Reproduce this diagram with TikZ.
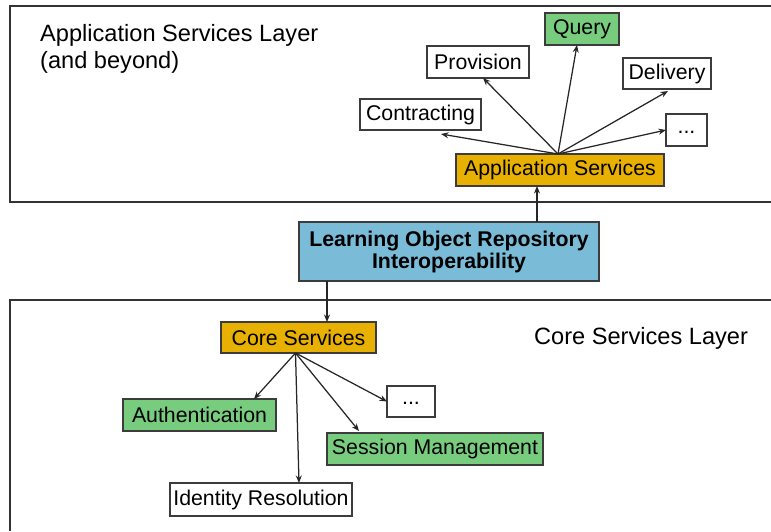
\documentclass[tikz,border=0pt]{standalone}
\usepackage{fontspec}
\setmainfont{Liberation Sans}
\usetikzlibrary{calc,arrows.meta}
\definecolor{svcorange}{RGB}{232,176,0}
\definecolor{svcgreen}{RGB}{120,204,126}
\definecolor{svcblue}{RGB}{122,188,216}
\definecolor{edgegray}{RGB}{60,60,60}
\tikzset{
  box/.style={draw=edgegray, line width=1.2pt, inner sep=0pt, outer sep=0pt,
    font=\fontsize{21.3}{25}\selectfont, text=black},
  plainbox/.style={box, fill=white},
  greenbox/.style={box, fill=svcgreen},
  orangebox/.style={box, fill=svcorange},
  bluebox/.style={box, fill=svcblue, align=center,
    font=\fontsize{21.3}{22}\selectfont\bfseries},
  layer/.style={draw=black!80, line width=1.3pt},
  layerlabel/.style={inner sep=0pt, anchor=base west, font=\fontsize{23.6}{27}\selectfont},
  arr/.style={draw=black!85, line width=1.25pt, -{Stealth[length=7.5pt,width=6pt]}},
  sized/.style 2 args={minimum width=#1pt, minimum height=#2pt}
}
% ellipsis placeholder text, set low in its box
\newcommand{\moredots}{\raisebox{-6pt}{...}}
\begin{document}
\begin{tikzpicture}[x=1pt,y=-1pt]
  \useasboundingbox (0,0) rectangle (771,531);

  % layer frames
  \draw[layer] (771,6) -- (10,6) -- (10,202) -- (771,202);
  \draw[layer] (771,300) -- (10,300) -- (10,531);

  % layer captions
  \node[layerlabel, align=left, anchor=north west] (applayer) at (40,24)
    {Application Services Layer\\(and beyond)};
  \node[layerlabel] (corelayer) at (534,344) {Core Services Layer};

  % application services layer
  \node[greenbox,  sized={74}{32}]  (query)    at (582,29)    {Query};
  \node[plainbox,  sized={102}{32}] (provision) at (478,62)   {Provision};
  \node[plainbox,  sized={88}{31}]  (delivery) at (667,73.5)  {Delivery};
  \node[plainbox,  sized={121}{31}] (contract) at (420.5,114.5) {Contracting};
  \node[plainbox,  sized={41}{32}]  (moreapp)  at (686.5,130) {\moredots};
  \node[orangebox, sized={208}{32}] (appsvc)   at (560,170)   {Application Services};

  % interoperability box between the layers
  \node[bluebox, sized={300}{59}] (lori) at (449,251.5)
    {Learning Object Repository\\Interoperability};

  % core services layer
  \node[orangebox, sized={155}{31}] (core)    at (298.5,337.5) {Core Services};
  \node[greenbox,  sized={153}{32}] (auth)    at (199.5,415)   {Authentication};
  \node[plainbox,  sized={48}{31}]  (morecore) at (411,401.5)  {\moredots};
  \node[greenbox,  sized={216}{32}] (session) at (435,449)     {Session Management};
  \node[plainbox,  sized={182}{33}] (idres)   at (261,499.5)   {Identity Resolution};

  % arrow end points
  \coordinate (appfan)   at ($(appsvc.north)+(-2,0)$);
  \coordinate (contTip)  at ($(contract.south)+(20.5,4)$);
  \coordinate (provTip)  at ($(provision.south)+(5,0)$);
  \coordinate (queryTip) at ($(query.south)+(-5,0)$);
  \coordinate (delTip)   at ($(delivery.south)+(1,2)$);
  \coordinate (appIn)    at ($(appsvc.south)+(-23,0)$);
  \coordinate (coreIn)   at ($(core.north)+(28.5,0)$);
  \coordinate (corefan)  at ($(core.south)+(-3,0)$);
  \coordinate (authTip)  at ($(auth.north)+(54.5,0)$);
  \coordinate (idTip)    at ($(idres.north)+(38,0)$);
  \coordinate (sessTip)  at ($(session.north)+(-76,-2)$);

  % application services fan-out
  \draw[arr] (appfan) -- (contTip);
  \draw[arr] (appfan) -- (provTip);
  \draw[arr] (appfan) -- (queryTip);
  \draw[arr] (appfan) -- (delTip);
  \draw[arr] (appfan) -- (moreapp.west);

  % links through the interoperability box
  \draw[arr] (lori.north -| appIn) -- (appIn);
  \draw[arr] (lori.south -| coreIn) -- (coreIn);

  % core services fan-out
  \draw[arr] (corefan) -- (authTip);
  \draw[arr] (corefan) -- (idTip);
  \draw[arr] (corefan) -- (sessTip);
  \draw[arr] (corefan) -- (morecore.west);
\end{tikzpicture}
\end{document}
